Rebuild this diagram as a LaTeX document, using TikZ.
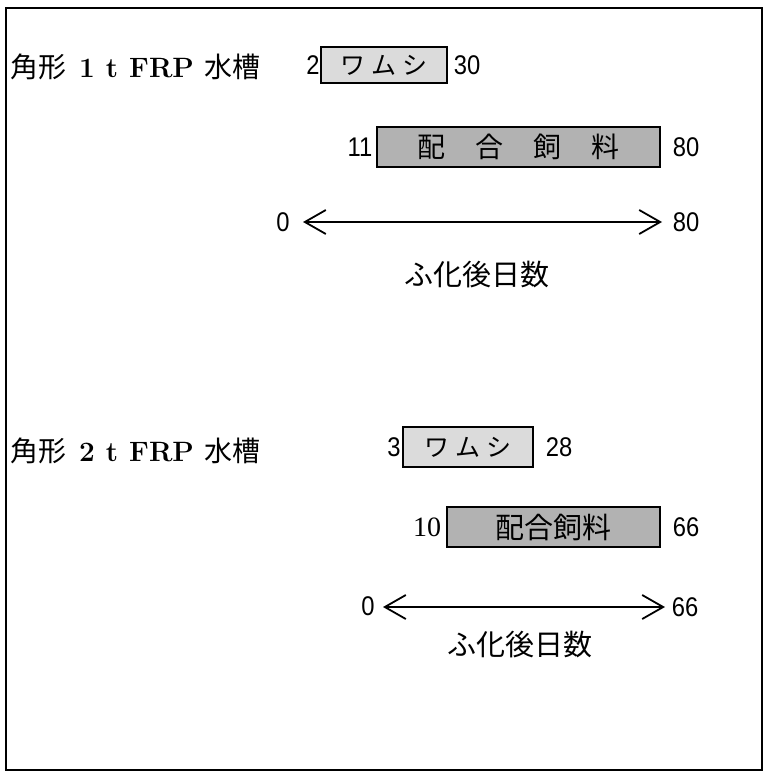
\documentclass[tikz,border=0pt]{standalone}
\usepackage{fontspec}
\newfontfamily\cjk{Noto Sans CJK JP}
\newfontfamily\numf[FakeStretch=0.88]{Liberation Sans}
\newfontfamily\serf{Liberation Serif}
\usetikzlibrary{arrows.meta}
\begin{document}
\begin{tikzpicture}[x=1pt,y=-1pt,
  num/.style={inner sep=0pt,font=\fontsize{27}{27}\numf},
  snum/.style={inner sep=0pt,font=\fontsize{28}{28}\serf},
  title/.style={inner sep=0pt,anchor=west,font=\fontsize{28}{28}\selectfont},
  lbl/.style={inner sep=0pt,font=\fontsize{29}{29}\cjk},
  wbox/.style={draw,line width=1.3pt,fill=black!14,inner sep=0pt,font=\fontsize{25}{25}\cjk},
  fbox/.style={draw,line width=1.3pt,fill=black!30,inner sep=0pt,font=\fontsize{28}{28}\cjk},
  dbl/.style={line width=1.8pt,{Straight Barb[length=21pt,width=24pt,line width=1.8pt]}-{Straight Barb[length=21pt,width=24pt,line width=1.8pt]}}
]
\useasboundingbox (0,0) rectangle (765,773);
\draw[line width=2pt] (6,8) rectangle (762,770);

% upper panel
\node[title] (t1) at (10,67) {{\cjk 角形}\hspace{13pt}{\bfseries 1\hspace{11pt}t\hspace{11pt}FRP}\hspace{10pt}{\cjk 水槽}};
\node[wbox,minimum width=126pt,minimum height=36pt] (w1) at (384,65) {ワ\hspace{6pt}ム\hspace{6pt}シ};
\node[num] (w1s) at (313,65) {2};
\node[num] (w1e) at (467,65) {30};
\node[fbox,minimum width=283pt,minimum height=40pt] (f1) at (518.5,147) {配\hspace{30pt}合\hspace{30pt}飼\hspace{30pt}料};
\node[num] (f1s) at (360,147) {11};
\node[num] (f1e) at (686,147) {80};
\coordinate (a1l) at (303,222);
\coordinate (a1r) at (662,222);
\draw[dbl] (a1l) -- (a1r);
\node[num] (a1s) at (283,222) {0};
\node[num] (a1e) at (686,222) {80};
\node[lbl] (d1) at (477,275) {ふ化後日数};

% lower panel
\node[title] (t2) at (10,451) {{\cjk 角形}\hspace{13pt}{\bfseries 2\hspace{11pt}t\hspace{11pt}FRP}\hspace{10pt}{\cjk 水槽}};
\node[wbox,minimum width=130pt,minimum height=40pt] (w2) at (468,447) {ワ\hspace{6pt}ム\hspace{6pt}シ};
\node[num] (w2s) at (394,447) {3};
\node[num] (w2e) at (559,447) {28};
\node[fbox,font=\fontsize{29}{29}\cjk,minimum width=213pt,minimum height=40pt] (f2) at (553.5,527) {配合飼料};
\node[snum] (f2s) at (427,527) {10};
\node[num] (f2e) at (686,527) {66};
\coordinate (a2l) at (383,607);
\coordinate (a2r) at (665,607);
\draw[dbl] (a2l) -- (a2r);
\node[num] (a2s) at (368,606) {0};
\node[num] (a2e) at (685,607) {66};
\node[lbl] (d2) at (520,645) {ふ化後日数};
\end{tikzpicture}
\end{document}
